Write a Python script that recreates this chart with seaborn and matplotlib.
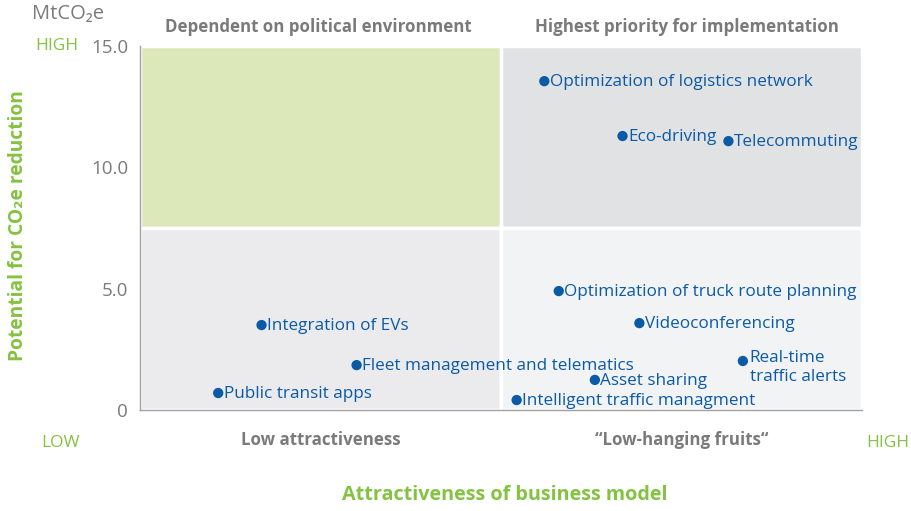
import matplotlib
matplotlib.use("Agg")
import matplotlib.pyplot as plt
from matplotlib.patches import Rectangle
import seaborn as sns
import pandas as pd

# ====== Data ======
levers = ["Public transit apps", "Integration of EVs", "Fleet management and telematics",
          "Intelligent traffic managment", "Asset sharing", "Real-time\ntraffic alerts",
          "Videoconferencing", "Optimization of truck route planning",
          "Optimization of logistics network", "Eco-driving", "Telecommuting"]
attractiveness = [0.65, 1.01, 1.80, 3.13, 3.78, 5.01, 4.15, 3.48, 3.36, 4.01, 4.89]
reduction = [0.70, 3.50, 1.85, 0.41, 1.24, 2.02, 3.58, 4.90, 13.55, 11.29, 11.08]

quadrant_titles_top = ["Dependent on political environment", "Highest priority for implementation"]
quadrant_titles_bottom = ["Low attractiveness", "\u201cLow-hanging fruits\u201c"]
yticks = [0, 5, 10, 15]
yticklabels = ["0", "5.0", "10.0", "15.0"]

df = pd.DataFrame({"lever": levers, "x": attractiveness, "y": reduction})

# ====== Style ======
sns.set_style("white")
plt.rcParams["font.family"] = ["Open Sans", "DejaVu Sans"]

GREEN = "#84c241"
BLUE = "#0b5aa6"
GREY = "#7a7a7a"

fig = plt.figure(figsize=(9.12, 5.11), dpi=100)
ax = fig.add_axes([140 / 912, 101 / 511, 722 / 912, 364 / 511])

# quadrant backgrounds
quads = [(0, 7.5, "#dde8ba"), (3, 7.5, "#e1e2e4"), (0, 0, "#ebebed"), (3, 0, "#f2f3f5")]
for qx, qy, col in quads:
    ax.add_patch(Rectangle((qx, qy), 3, 7.5, facecolor=col, edgecolor="white", lw=2.5, zorder=0))

sns.scatterplot(data=df, x="x", y="y", color=BLUE, s=55, edgecolor="none", ax=ax, zorder=3)

for _, r in df.iterrows():
    if "\n" in r["lever"]:
        ax.annotate(r["lever"], (r["x"], r["y"]), xytext=(5, 8), textcoords="offset points",
                    va="top", ha="left", color=BLUE, fontsize=12.3, linespacing=1.3)
    else:
        ax.annotate(r["lever"], (r["x"], r["y"]), xytext=(4, -0.5), textcoords="offset points",
                    va="center", ha="left", color=BLUE, fontsize=12.3)

ax.set_xlim(0, 6)
ax.set_ylim(0, 15)
ax.set_xticks([0, 1, 2, 3, 4, 5, 6])
ax.set_xticklabels([])
ax.set_yticks(yticks)
ax.set_yticklabels(yticklabels, color=GREY, fontsize=13.5)
ax.set_xlabel("")
ax.set_ylabel("")
ax.tick_params(axis="both", direction="out", length=5, color="#a0a0a0", width=1)
for s in ["top", "right"]:
    ax.spines[s].set_visible(False)
for s in ["left", "bottom"]:
    ax.spines[s].set_color("#a0a0a0")
    ax.spines[s].set_linewidth(1)

# quadrant headings
fig.text(318 / 912, 1 - 27 / 511, quadrant_titles_top[0], ha="center", va="center", color=GREY,
         fontsize=12.2, fontweight="bold")
fig.text(687 / 912, 1 - 27 / 511, quadrant_titles_top[1], ha="center", va="center", color=GREY,
         fontsize=12.2, fontweight="bold")
fig.text(321 / 912, 1 - 440 / 511, quadrant_titles_bottom[0], ha="center", va="center",
         color=GREY, fontsize=12.2, fontweight="bold")
fig.text(682 / 912, 1 - 440 / 511, quadrant_titles_bottom[1], ha="center", va="center",
         color=GREY, fontsize=12.2, fontweight="bold")

# axis titles and scale markers
fig.text(505 / 912, 1 - 495 / 511, "Attractiveness of business model", ha="center", va="center",
         color=GREEN, fontsize=14.2, fontweight="bold")
fig.text(18 / 912, 1 - 226 / 511, "Potential for CO\u2082e reduction", ha="center", va="center",
         rotation=90, color=GREEN, fontsize=13.8, fontweight="bold")
fig.text(68 / 912, 1 - 14 / 511, "MtCO\u2082e", ha="center", va="center", color=GREY, fontsize=14.5)
fig.text(57 / 912, 1 - 46 / 511, "HIGH", ha="center", va="center", color=GREEN, fontsize=12.5)
fig.text(61 / 912, 1 - 443 / 511, "LOW", ha="center", va="center", color=GREEN, fontsize=12.5)
fig.text(888 / 912, 1 - 443 / 511, "HIGH", ha="center", va="center", color=GREEN, fontsize=12.5)

fig.savefig("out.png", dpi=100)
